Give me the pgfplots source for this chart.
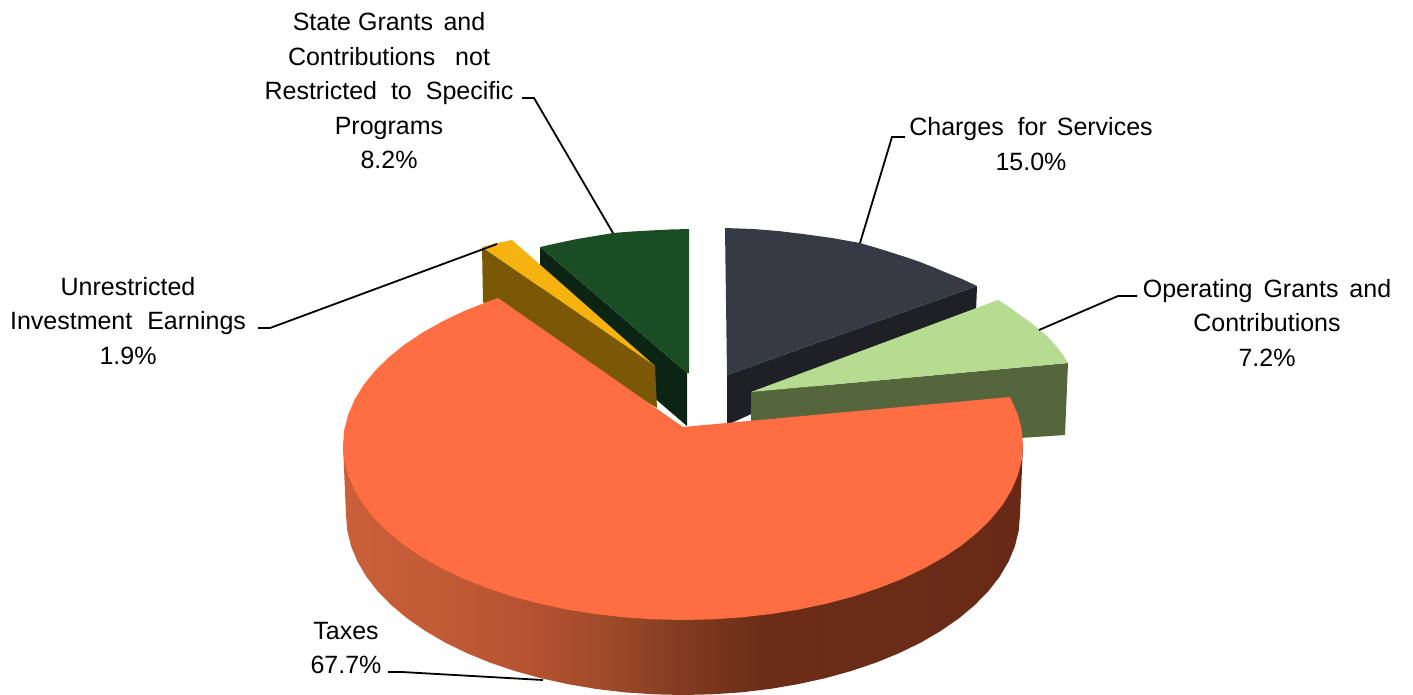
\documentclass[border=0pt]{standalone}
\usepackage{pgfplots}
\pgfplotsset{compat=1.18}
\usepackage{fontspec}
\setmainfont{Liberation Sans}
\definecolor{orangeTop}{HTML}{FF6D42}
\definecolor{greenTop}{HTML}{1A4D24}
\definecolor{greenSide}{HTML}{0C2414}
\definecolor{slateTop}{HTML}{363A45}
\definecolor{slateSide}{HTML}{1E2026}
\definecolor{limeTop}{HTML}{B5DC90}
\definecolor{limeSide}{HTML}{55653C}
\definecolor{yellowTop}{HTML}{F6B20E}
\definecolor{yellowSide}{HTML}{7A5805}
\pgfdeclarehorizontalshading{sideshade}{100bp}{
  rgb(0bp)=(0.792,0.376,0.224);
  rgb(25bp)=(0.792,0.376,0.224);
  rgb(32bp)=(0.761,0.357,0.212);
  rgb(39.5bp)=(0.702,0.318,0.184);
  rgb(45.4bp)=(0.600,0.285,0.155);
  rgb(49.8bp)=(0.510,0.235,0.128);
  rgb(55.7bp)=(0.424,0.176,0.094);
  rgb(75bp)=(0.408,0.165,0.086);
  rgb(100bp)=(0.408,0.165,0.086)}
\begin{document}
\fontsize{25}{34.5}\selectfont
\begin{tikzpicture}
\useasboundingbox (0,0) rectangle (1413pt,694pt);
\begin{axis}[
  at={(0,0)}, anchor=south west,
  scale only axis, width=1413pt, height=694pt,
  xmin=0, xmax=1413, ymin=0, ymax=694, y dir=reverse,
  hide axis, clip=true,
  every axis plot/.append style={mark=none, forget plot},
]
% side faces and top faces, pixel coordinates of the picture
\addplot[fill=greenSide, draw=none] coordinates {(540,247)(687,373)(687,426)(540,300)};
\addplot[fill=greenTop, draw=none] coordinates {(687,373)(540,247)(558,243)(577,239)(595,236)(613,233)(632,231.5)(650,230.5)(670,229.5)(689,229)(689,373)};
\addplot[fill=yellowSide, draw=none] coordinates {(482,247)(655,366)(657,408)(483,302)};
\addplot[fill=yellowTop, draw=none] coordinates {(655,366)(482,247)(497,243)(512,240)};
\addplot[fill=slateSide, draw=none] coordinates {(727,375)(977,286)(976,312)(727,425)};
\addplot[fill=slateTop, draw=none] coordinates {(727,375)(725,228)(753,229)(778,231)(803,234)(832,238)(860,243)(877,248)(893,253)(907,257.5)(920,262)(934,267.5)(947,273)(962,279)(977,286)};
\addplot[fill=limeSide, draw=none] coordinates {(751,392)(1068,363)(1065,435)(1020,438)(751,430)};
\addplot[fill=limeTop, draw=none] coordinates {(751,392)(998,300)(1009,307)(1020,315)(1030,322)(1040,330)(1049,338)(1057,347)(1063,355)(1068,363)};
\addplot[shading=sideshade, draw=none] coordinates {
 (343,445)(346,515)(347.3,530.7)(351.1,546.2)(357.5,561.6)(366.3,576.6)(377.6,591.1)(391.2,605)(406.9,618.2)(424.9,630.7)(444.7,642.3)(466.4,652.9)(489.7,662.5)(514.5,670.9)(540.6,678.1)(567.7,684.1)(595.8,688.9)(624.5,692.3)(653.6,694.3)(683,695)(712.4,694.3)(741.5,692.3)(770.2,688.9)(798.3,684.1)(825.4,678.1)(851.5,670.9)(876.3,662.5)(899.6,652.9)(921.3,642.3)(941.1,630.7)(959.1,618.2)(974.8,605)(988.4,591.1)(999.7,576.6)(1008.5,561.6)(1014.9,546.2)(1018.7,530.7)(1020,515)(1023,445)};
\addplot[fill=orangeTop, draw=none] coordinates {
 (683,427)(1010,397)(1017.8,414.6)(1021.7,429.7)(1023,445)(1021.7,460.3)(1017.8,475.4)(1011.4,490.3)(1002.5,504.9)(991.1,519)(977.4,532.5)(961.5,545.4)(943.4,557.5)(923.4,568.7)(901.6,579.1)(878,588.4)(853,596.6)(826.7,603.6)(799.3,609.4)(771,614)(742,617.3)(712.6,619.3)(683,620)(653.4,619.3)(624,617.3)(595,614)(566.7,609.4)(539.3,603.6)(513,596.6)(488,588.4)(464.4,579.1)(442.6,568.7)(422.6,557.5)(404.5,545.4)(388.6,532.5)(374.9,519)(363.5,504.9)(354.6,490.3)(348.2,475.4)(344.3,460.3)(343,445)(344.3,429.7)(348.2,414.6)(354.6,399.7)(363.5,385.1)(374.9,371)(388.6,357.5)(404.5,344.6)(422.6,332.5)(442.6,321.3)(464.4,310.9)(488,301.6)(498,298)};
% leader lines
\addplot[black, line width=1.8pt] coordinates {(522,98)(534,98)(613,233)};
\addplot[black, line width=1.8pt] coordinates {(905,137)(892,137)(860,243)};
\addplot[black, line width=1.8pt] coordinates {(1137,296)(1118,296)(1039,330)};
\addplot[black, line width=1.8pt] coordinates {(258,328)(270,328)(497,244)};
\addplot[black, line width=1.8pt] coordinates {(388,672)(402,672)(543,680)};
% labels
\tikzset{lab/.style={align=center, inner sep=0pt, text=black, font=\fontsize{25}{34.5}\selectfont}}
\node[lab] at (axis cs:389,91) {State Grants\hspace{3.5pt} and\hspace{3.5pt}\\Contributions\hspace{13pt} not\\Restricted\hspace{7pt} to\hspace{7pt} Specific\\Programs\\8.2\%};
\node[lab] at (axis cs:1031,144) {Charges\hspace{7pt} for\hspace{3pt} Services\\15.0\%};
\node[lab] at (axis cs:1267,323) {Operating\hspace{4pt} Grants\hspace{4pt} and\\Contributions\\7.2\%};
\node[lab] at (axis cs:128,321) {Unrestricted\\Investment\hspace{8pt} Earnings\\1.9\%};
\node[lab] at (axis cs:346,648) {Taxes\\67.7\%};
\end{axis}
\end{tikzpicture}
\end{document}
